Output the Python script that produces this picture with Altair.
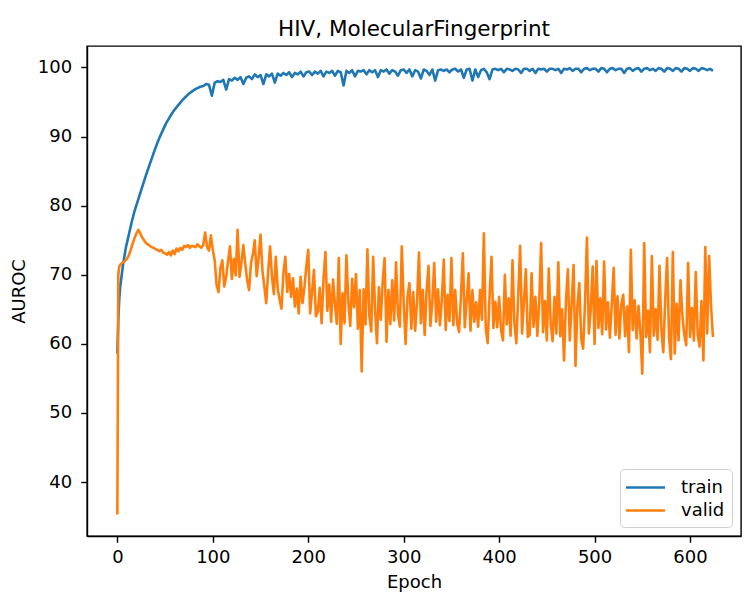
import altair as alt
import pandas as pd

# ---- data ----
train_epoch = [0, 1, 2, 3] + list(range(6, 625, 3))
train_auroc = [
    58.6, 63.5, 66.5, 68.3,
    71.5, 74.0, 75.8, 77.6, 79.2, 80.5, 81.8, 83.1, 84.4, 85.6,
    86.8, 88.0, 89.1, 90.1, 91.0, 91.9, 92.6, 93.3, 93.9, 94.4,
    94.9, 95.4, 95.8, 96.2, 96.5, 96.8, 97.0, 97.2, 97.3, 97.6,
    97.5, 95.9, 97.8, 98.0, 97.9, 98.2, 96.8, 98.3, 98.1, 98.5,
    98.2, 98.6, 97.6, 98.5, 98.7, 98.3, 99.0, 98.6, 98.9, 97.6,
    99.0, 98.7, 99.1, 97.8, 99.1, 98.8, 99.2, 98.9, 99.3, 98.6,
    99.2, 99.0, 99.4, 98.7, 99.3, 99.4, 98.9, 99.4, 99.1, 99.5,
    98.7, 99.4, 99.2, 99.5, 98.8, 99.5, 99.3, 97.4, 99.5, 99.2,
    99.6, 98.7, 99.5, 99.4, 99.6, 99.0, 99.6, 99.3, 99.6, 98.6,
    99.6, 99.4, 99.7, 99.1, 99.6, 99.4, 98.8, 99.6, 99.7, 99.2,
    99.7, 98.7, 99.6, 99.4, 98.4, 99.7, 99.5, 98.9, 99.7, 98.1,
    99.6, 99.7, 99.5, 99.7, 99.3, 99.7, 99.8, 99.4, 99.7, 98.5,
    99.7, 99.8, 98.1, 99.7, 98.6, 99.6, 99.8, 99.3, 98.3, 99.7,
    99.8, 99.6, 99.8, 99.3, 99.8, 99.7, 99.5, 99.8, 99.7, 99.2,
    99.8, 99.8, 99.5, 99.8, 99.2, 99.8, 99.7, 99.8, 99.4, 99.8,
    99.8, 99.6, 99.8, 99.2, 99.8, 99.7, 99.9, 99.5, 99.8, 99.8,
    99.3, 99.8, 99.9, 99.6, 99.8, 99.8, 99.4, 99.9, 99.8, 99.3,
    99.8, 99.9, 99.6, 99.8, 99.8, 99.2, 99.8, 99.9, 99.5, 99.8,
    99.9, 99.4, 99.8, 99.9, 99.6, 99.8, 99.5, 99.9, 99.8, 99.4,
    99.9, 99.8, 99.5, 99.9, 99.8, 99.4, 99.9, 99.8, 99.5, 99.9,
    99.8, 99.5, 99.9, 99.8, 99.6, 99.8, 99.5,
]

valid_epoch = [0, 1] + list(range(2, 625, 2))
valid_auroc = [
    35.3, 70.0,
    71.2, 71.6, 71.8, 72.0, 72.3, 72.8, 73.6, 74.5, 75.3, 76.0,
    76.5, 76.0, 75.4, 75.0, 74.6, 74.4, 74.2, 74.0, 73.9, 73.7,
    73.6, 73.4, 73.6, 73.2, 73.1, 72.9, 73.3, 72.8, 73.5, 73.0,
    73.8, 73.4, 73.9, 73.6, 74.2, 74.0, 74.3, 73.9, 74.2, 74.1,
    74.0, 74.4, 74.1, 73.9, 74.3, 76.1, 74.0, 73.5, 75.7, 73.6,
    72.1, 68.5, 67.5, 71.0, 72.1, 68.3, 69.7, 72.0, 74.1, 69.4,
    72.3, 69.9, 76.5, 69.7, 71.8, 74.3, 71.6, 69.2, 67.8, 71.6,
    73.0, 75.0, 69.8, 72.4, 75.8, 70.6, 68.3, 65.9, 70.5, 74.1,
    69.7, 67.2, 72.6, 68.0, 66.4, 65.1, 70.3, 72.6, 67.5, 70.1,
    66.8, 69.5, 65.4, 68.0, 64.4, 69.7, 65.9, 68.2, 71.2, 73.6,
    64.4, 67.5, 70.7, 64.0, 64.6, 68.1, 63.0, 69.4, 73.3, 64.8,
    68.6, 63.2, 69.3, 65.7, 62.9, 72.4, 60.0, 67.3, 63.0, 72.8,
    66.1, 62.6, 69.4, 65.3, 70.1, 62.2, 67.8, 56.0, 67.9, 62.8,
    73.7, 64.1, 61.8, 72.6, 65.0, 60.1, 68.2, 63.5, 69.0, 72.4,
    60.3, 67.8, 62.9, 69.2, 63.4, 71.8, 64.3, 62.5, 74.1, 66.0,
    60.0, 66.8, 68.8, 62.2, 67.5, 61.9, 66.1, 73.2, 63.0, 67.8,
    61.3, 67.7, 71.3, 62.6, 66.0, 71.7, 63.2, 67.9, 62.7, 66.4,
    72.2, 62.0, 67.1, 63.3, 72.4, 62.7, 67.8, 63.0, 61.7, 66.9,
    73.1, 62.4, 66.3, 70.2, 61.9, 67.8, 63.2, 66.0, 62.5, 67.8,
    63.5, 76.0, 62.2, 60.1, 67.0, 72.6, 62.3, 66.1, 62.4, 66.8,
    62.0, 60.5, 70.0, 62.8, 66.6, 61.2, 72.1, 63.0, 60.1, 67.0,
    74.2, 61.5, 66.1, 70.8, 61.0, 61.3, 70.2, 62.5, 66.8, 61.2,
    66.0, 74.6, 61.7, 66.2, 60.5, 70.9, 63.0, 60.4, 66.8, 61.5,
    71.8, 61.1, 65.0, 57.6, 66.2, 70.8, 60.5, 65.8, 71.4, 56.8,
    65.5, 68.8, 60.7, 59.3, 66.0, 75.4, 61.5, 65.0, 71.2, 60.0,
    72.0, 62.3, 66.6, 61.4, 71.9, 62.1, 66.0, 60.9, 65.7, 71.0,
    61.3, 66.9, 60.8, 65.7, 67.1, 61.1, 65.4, 58.8, 73.6, 62.0,
    66.3, 60.8, 65.5, 61.6, 55.7, 74.6, 61.0, 64.8, 58.8, 72.7,
    61.2, 65.0, 60.6, 71.3, 62.0, 58.8, 66.5, 72.4, 61.0, 57.8,
    73.3, 58.6, 65.8, 60.5, 69.2, 64.0, 61.3, 59.8, 71.7, 61.0,
    65.2, 60.5, 70.4, 61.4, 59.6, 66.2, 57.6, 74.0, 61.5, 72.7,
    65.5, 61.0,
]

series_names = ["train", "valid"]
series_colors = ["#1f77b4", "#ff7f0e"]
x_ticks = [0, 100, 200, 300, 400, 500, 600]
y_ticks = [40, 50, 60, 70, 80, 90, 100]

assert len(train_epoch) == len(train_auroc), (len(train_epoch), len(train_auroc))
assert len(valid_epoch) == len(valid_auroc), (len(valid_epoch), len(valid_auroc))

df = pd.DataFrame({
    "epoch": train_epoch + valid_epoch,
    "auroc": train_auroc + valid_auroc,
    "series": ["train"] * len(train_epoch) + ["valid"] * len(valid_epoch),
})

FONT = "DejaVu Sans"

chart = alt.Chart(df).mark_line(strokeWidth=2.6, strokeJoin="round").encode(
    x=alt.X("epoch:Q", title="Epoch",
            scale=alt.Scale(domain=[-31.8, 653.4], nice=False, zero=False),
            axis=alt.Axis(values=x_ticks, grid=False, titlePadding=7, labelPadding=6)),
    y=alt.Y("auroc:Q", title="AUROC",
            scale=alt.Scale(domain=[32.2, 103.1], nice=False, zero=False),
            axis=alt.Axis(values=y_ticks, grid=False, titlePadding=9, labelPadding=9)),
    color=alt.Color("series:N",
                    scale=alt.Scale(domain=series_names, range=series_colors),
                    legend=alt.Legend(title=None, orient="bottom-right", offset=9)),
).properties(
    width=654,
    height=490,
    title=alt.TitleParams("HIV, MolecularFingerprint", fontSize=21.5, font=FONT,
                          fontWeight="normal", color="black", anchor="middle",
                          baseline="alphabetic", offset=11, dy=22),
    autosize=alt.AutoSizeParams(type="none"),
    padding={"left": 87, "top": 46, "right": 6, "bottom": 72},
).configure_view(
    stroke="black", strokeWidth=1.4
).configure_axis(
    domainColor="black", domainWidth=1.4,
    tickColor="black", tickWidth=1.4, tickSize=6.3,
    labelFont=FONT, labelFontSize=18, labelColor="black",
    titleFont=FONT, titleFontSize=18, titleFontWeight="normal", titleColor="black",
).configure_legend(
    labelFont=FONT, labelFontSize=18, labelColor="black",
    symbolType="M-2,0H2", symbolSize=380, symbolStrokeWidth=2.6,
    symbolOffset=7, labelOffset=24,
    fillColor="white", strokeColor="#d0d0d0", cornerRadius=4,
    padding=7, rowPadding=2,
)

chart.save("out.html", embed_options={"renderer": "svg", "actions": False})
